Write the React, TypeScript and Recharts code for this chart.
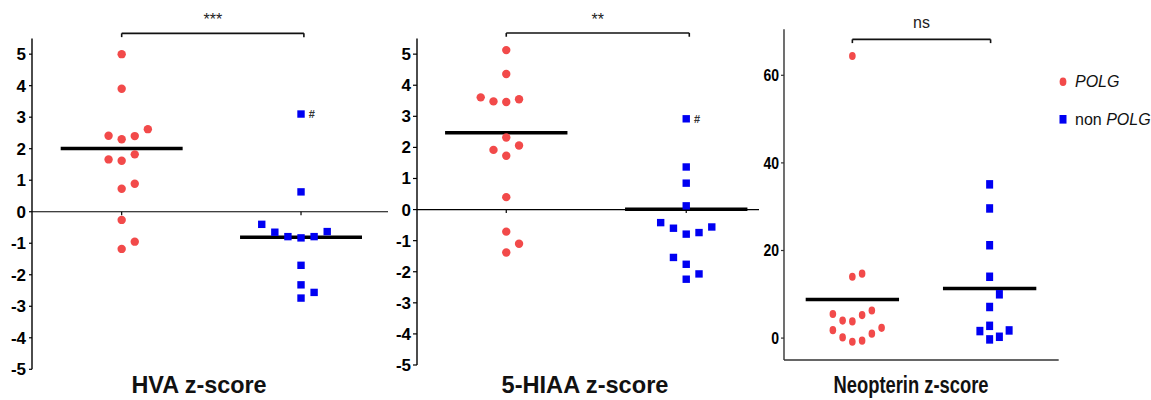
import React from 'react'
import {
  ScatterChart,
  Scatter,
  XAxis,
  YAxis,
  ReferenceLine,
} from 'recharts'

// z-scores; slots are the horizontal jitter position of each dot
const hvaPolg = [5.0, 3.9, 2.62, 2.41, 2.3, 2.4, 1.66, 1.62, 1.82, 0.73, 0.89, -0.26, -0.95, -1.18]
const hvaPolgSlot = [0, 0, 2, -1, 0, 1, -1, 0, 1, 0, 1, 0, 1, 0]
const hvaNon = [3.1, 0.63, -0.4, -0.65, -0.79, -0.83, -0.79, -0.63, -1.7, -2.32, -2.56, -2.74]
const hvaNonSlot = [0, 0, -3, -2, -1, 0, 1, 2, 0, 0, 1, 0]
const hvaNonNote = ['#', '', '', '', '', '', '', '', '', '', '', '']
const hvaMeans = [2.01, -0.81]

const hiaaPolg = [5.13, 4.36, 3.61, 3.48, 3.46, 3.55, 2.32, 2.06, 1.92, 1.73, 0.4, -0.71, -1.1, -1.38]
const hiaaPolgSlot = [0, 0, -2, -1, 0, 1, 0, 1, -1, 0, 0, 0, 1, 0]
const hiaaNon = [2.92, 1.37, 0.85, 0.12, -0.42, -0.6, -0.79, -0.74, -0.56, -1.54, -1.76, -2.07, -2.24]
const hiaaNonSlot = [0, 0, 0, 0, -2, -1, 0, 1, 2, -1, 0, 1, 0]
const hiaaNonNote = ['#', '', '', '', '', '', '', '', '', '', '', '', '']
const hiaaMeans = [2.47, 0.01]

const neoPolg = [64.4, 14.0, 14.7, 6.3, 5.25, 3.8, 4.0, 5.5, 1.8, 0.15, -0.84, -0.6, 1.0, 2.35]
const neoPolgSlot = [0, 0, 1, 2, 1, 0, -1, -2, -2, -1, 0, 1, 2, 3]
const neoNon = [35.1, 29.6, 21.2, 14.0, 10.0, 7.1, 2.8, 1.6, 1.75, -0.3, 0.3]
const neoNonSlot = [0, 0, 0, 0, 1, 0, 0, -1, 2, 0, 1]
const neoMeans = [8.8, 11.3]

const zTicks = [-5, -4, -3, -2, -1, 0, 1, 2, 3, 4, 5]
const neoTicks = [0, 20, 40, 60]

const RED = '#f24a4a'
const BLUE = '#0000f2'
const FONT = '"Liberation Sans", Arial, sans-serif'

type Pt = { x: number; y: number; note?: string }

function toPoints(values: number[], slots: number[], group: number, step: number, notes?: string[]): Pt[] {
  return values.map((v, i) => ({ x: group + slots[i] * step, y: v, note: notes ? notes[i] : '' }))
}

const dot = (rx: number, ry: number) => (p: any) => (
  <ellipse cx={p.cx} cy={p.cy} rx={rx} ry={ry} fill={RED} />
)

const square = (w: number, h: number) => (p: any) => (
  <g>
    <rect x={p.cx - w / 2} y={p.cy - h / 2} width={w} height={h} fill={BLUE} />
    {p.payload && p.payload.note ? (
      <text x={p.cx + w / 2 + 4} y={p.cy + 4} fontSize={11} fontWeight={700} fontFamily={FONT} fill='#333'>
        {p.payload.note}
      </text>
    ) : null}
  </g>
)

// bold tick labels; narrow panels squeeze the glyphs to look like Arial Narrow
const yTick = (digitW?: number) => (props: any) => {
  const label = String(props.payload.value)
  return (
    <text
      x={props.x}
      y={props.y}
      dy={6}
      textAnchor='end'
      fontSize={17}
      fontWeight={700}
      fontFamily={FONT}
      fill='#000'
      {...(digitW ? { textLength: label.length * digitW, lengthAdjust: 'spacingAndGlyphs' } : {})}
    >
      {label}
    </text>
  )
}

interface PanelProps {
  left: number
  width: number
  top: number
  bottom: number
  yWidth: number
  tickSize: number
  tickMargin: number
  yDomain: [number, number]
  yTicks: number[]
  xDomain: [number, number]
  polg: Pt[]
  non: Pt[]
  means: number[]
  bracketY: number
  bracketDrop: number
  bracketEnd: number
  sig: string
  sigOffset: number
  sigSize: number
  digitW?: number
  zeroLine: boolean
  dotR: [number, number]
  sq: [number, number]
  axisColor: string
}

function Panel(p: PanelProps) {
  return (
    <div style={{ position: 'absolute', left: p.left, top: 0 }}>
      <ScatterChart
        width={p.width}
        height={400}
        margin={{ top: p.top, bottom: p.bottom, left: 0, right: 0 }}
      >
        <XAxis
          type='number'
          dataKey='x'
          domain={p.xDomain}
          allowDataOverflow
          hide={p.zeroLine}
          ticks={[1]}
          tick={false}
          tickSize={4}
          height={8}
          axisLine={{ stroke: p.axisColor, strokeWidth: 1.5 }}
          tickLine={{ stroke: p.axisColor, strokeWidth: 1.2 }}
        />
        <YAxis
          type='number'
          dataKey='y'
          domain={p.yDomain}
          allowDataOverflow
          ticks={p.yTicks}
          interval={0}
          width={p.yWidth}
          tickSize={p.tickSize}
          tickMargin={p.tickMargin}
          tick={yTick(p.digitW)}
          axisLine={{ stroke: p.axisColor, strokeWidth: 1.4 }}
          tickLine={{ stroke: p.axisColor, strokeWidth: 1.2 }}
        />
        {p.zeroLine && <ReferenceLine y={0} stroke='#000' strokeWidth={1.2} />}
        {p.zeroLine &&
          [1, 2].map(g => (
            <ReferenceLine
              key={`t${g}`}
              segment={[{ x: g, y: 0 }, { x: g, y: -0.11 }]}
              stroke='#000'
              strokeWidth={1.2}
              ifOverflow='visible'
            />
          ))}
        <Scatter data={p.polg} shape={dot(p.dotR[0], p.dotR[1])} isAnimationActive={false} />
        <Scatter data={p.non} shape={square(p.sq[0], p.sq[1])} isAnimationActive={false} />
        {p.means.map((m, i) => (
          <ReferenceLine
            key={`m${i}`}
            segment={[{ x: i + 1 - 0.34, y: m }, { x: i + 1 + 0.34, y: m }]}
            stroke='#000'
            strokeWidth={3.5}
            ifOverflow='visible'
          />
        ))}
        <ReferenceLine
          segment={[{ x: 1, y: p.bracketY }, { x: p.bracketEnd, y: p.bracketY }]}
          stroke='#111'
          strokeWidth={1.6}
          ifOverflow='visible'
          label={{
            value: p.sig,
            position: 'top',
            offset: p.sigOffset,
            fill: '#222',
            fontSize: p.sigSize,
            fontFamily: FONT,
          }}
        />
        {[1, p.bracketEnd].map(g => (
          <ReferenceLine
            key={`b${g}`}
            segment={[{ x: g, y: p.bracketY }, { x: g, y: p.bracketY - p.bracketDrop }]}
            stroke='#111'
            strokeWidth={1.6}
            ifOverflow='visible'
          />
        ))}
      </ScatterChart>
    </div>
  )
}

export default function App() {
  return (
    <div style={{ position: 'absolute', left: 0, top: 0, width: 1151, height: 400, background: '#fff' }}>
      <Panel
        left={0}
        width={388}
        top={38.4}
        bottom={30.7}
        yWidth={32}
        tickSize={3}
        tickMargin={3}
        yDomain={[-5, 5.5]}
        yTicks={zTicks}
        xDomain={[0.5, 2.485]}
        polg={toPoints(hvaPolg, hvaPolgSlot, 1, 0.073)}
        non={toPoints(hvaNon, hvaNonSlot, 2, 0.073, hvaNonNote)}
        means={hvaMeans}
        bracketY={5.66}
        bracketDrop={0.12}
        bracketEnd={2.016}
        sig='***'
        sigOffset={8}
        sigSize={16}
        zeroLine
        dotR={[4.2, 4.2]}
        sq={[7.4, 7.4]}
        axisColor='#000'
      />
      <Panel
        left={380.7}
        width={378.3}
        top={38.6}
        bottom={35}
        yWidth={36}
        tickSize={4}
        tickMargin={2}
        yDomain={[-5, 5.5]}
        yTicks={zTicks}
        xDomain={[0.504, 2.406]}
        polg={toPoints(hiaaPolg, hiaaPolgSlot, 1, 0.071)}
        non={toPoints(hiaaNon, hiaaNonSlot, 2, 0.071, hiaaNonNote)}
        means={hiaaMeans}
        bracketY={5.68}
        bracketDrop={0.12}
        bracketEnd={2.017}
        sig='**'
        sigOffset={8}
        sigSize={16}
        zeroLine
        dotR={[4.2, 4.2]}
        sq={[7.4, 7.4]}
        axisColor='#000'
      />
      <Panel
        left={754.3}
        width={304.7}
        top={29.3}
        bottom={32}
        yWidth={30}
        tickSize={3}
        tickMargin={2}
        yDomain={[-5, 70.5]}
        yTicks={neoTicks}
        xDomain={[0.502, 2.503]}
        polg={toPoints(neoPolg, neoPolgSlot, 1, 0.071)}
        non={toPoints(neoNon, neoNonSlot, 2, 0.071)}
        means={neoMeans}
        bracketY={68.2}
        bracketDrop={0.85}
        bracketEnd={2.007}
        sig='ns'
        sigOffset={11}
        sigSize={16}
        digitW={7.8}
        zeroLine={false}
        dotR={[3.3, 4.1]}
        sq={[7, 8.5]}
        axisColor='#333'
      />
      <svg
        width={1151}
        height={400}
        style={{ position: 'absolute', left: 0, top: 0, pointerEvents: 'none' }}
      >
        <text x={199} y={393} textAnchor='middle' fontSize={23.4} fontWeight={700} fontFamily={FONT} fill='#111'>
          HVA z-score
        </text>
        <text x={585} y={393} textAnchor='middle' fontSize={23.6} fontWeight={700} fontFamily={FONT} fill='#111'>
          5-HIAA z-score
        </text>
        <text
          x={911}
          y={393}
          textAnchor='middle'
          fontSize={23}
          fontWeight={700}
          fontFamily={FONT}
          fill='#111'
          textLength={155}
          lengthAdjust='spacingAndGlyphs'
        >
          Neopterin z-score
        </text>
        <ellipse cx={1063} cy={81.7} rx={3.4} ry={4.3} fill={RED} />
        <text x={1075} y={86.7} fontSize={16} fontStyle='italic' fontFamily={FONT} fill='#111'>
          POLG
        </text>
        <rect x={1059.5} y={115} width={7} height={8.6} fill={BLUE} />
        <text x={1075} y={125} fontSize={16} fontFamily={FONT} fill='#111'>
          non <tspan fontStyle='italic'>POLG</tspan>
        </text>
      </svg>
    </div>
  )
}
